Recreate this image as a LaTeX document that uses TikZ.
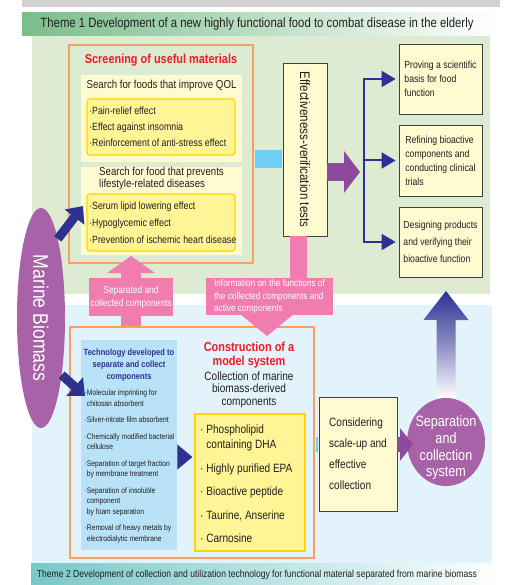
\documentclass[tikz,border=0pt]{standalone}
\usepackage{fontspec}
\setmainfont{Liberation Sans}[FakeStretch=0.84]
\usetikzlibrary{arrows.meta,shapes.geometric}

\definecolor{greenbg}{RGB}{220,235,209}
\definecolor{bluebg}{RGB}{226,243,251}
\definecolor{themegreen}{RGB}{122,190,138}
\definecolor{themeteal}{RGB}{120,200,200}
\definecolor{orangeline}{RGB}{247,160,100}
\definecolor{paleyellow}{RGB}{255,251,208}
\definecolor{fillyellow}{RGB}{255,245,150}
\definecolor{goldline}{RGB}{255,212,0}
\definecolor{cyanbar}{RGB}{109,207,246}
\definecolor{navy}{RGB}{46,49,146}
\definecolor{biopurple}{RGB}{168,98,168}
\definecolor{arrowpurple}{RGB}{140,74,156}
\definecolor{pinkarrow}{RGB}{240,124,176}
\definecolor{titlered}{RGB}{237,28,36}
\definecolor{techblue}{RGB}{183,226,247}
\definecolor{darktext}{RGB}{35,31,32}

\newcommand{\fsz}[2]{\fontsize{#1}{#2}\selectfont}

\begin{document}
\begin{tikzpicture}[x=1pt, y=-1pt,
  every node/.style={text=darktext, inner sep=0pt},
  resbox/.style={draw=black!75, fill=paleyellow, line width=0.8pt},
  orangeframe/.style={draw=orangeline, line width=2pt},
  palebox/.style={fill=paleyellow},
  itembox/.style={draw=goldline, fill=fillyellow, line width=1.2pt, rounded corners=3pt},
  pinklabel/.style={fill=pinkarrow, text=white, align=left},
  navyfat/.style={navy, line width=9pt, -{Triangle[length=14pt,width=24pt]}},
  navyline/.style={navy, line width=2pt},
  purplefat/.style={arrowpurple, -{Triangle[length=16pt,width=41pt]}}]
\useasboundingbox (0,0) rectangle (509,585);

% Theme bars and backgrounds
\fill[black!18] (22,0) rectangle (500,7);
\shade[left color=themegreen, right color=white] (22,13) rectangle (500,36);
\node (theme1) at (257,24.5) {\fsz{13.5}{15}Theme 1 Development of a new highly functional food to combat disease in the elderly};
\fill[greenbg] (32,36) rectangle (490,294);
\fill[bluebg] (32,305) rectangle (492,563);
\shade[left color=themeteal, right color=white] (31,563) rectangle (503,585);
\node (theme2) at (257,575) {\fsz{10.2}{12}Theme 2 Development of collection and utilization technology for functional material separated from marine biomass};

% Construction of a model system
\node[orangeframe, minimum width=244, minimum height=231] (model) at (192,442.5) {};
\node[fill=techblue, minimum width=96, minimum height=210] (tech) at (129,445) {};
\node[text=navy, align=center, font=\bfseries\fsz{9}{12}] (techTitle) at (129,365) {Technology developed to\\separate and collect\\components};
\node[anchor=west, align=left, font=\fsz{8}{10.5}] (techList) at (84.5,466.5) {·Molecular imprinting for\\\hphantom{·}chitosan absorbent\\[6pt]·Silver-nitrate film absorbent\\[6pt]·Chemically modified bacterial\\\hphantom{·}cellulose\\[6pt]·Separation of target fraction\\\hphantom{·}by membrane treatment\\[6pt]·Separation of insoluble\\\hphantom{·}component\\\hphantom{·}by foam separation\\[6pt]·Removal of heavy metals by\\\hphantom{·}electrodialytic membrane};
\node[text=titlered, align=center, font=\bfseries\fsz{13}{14}] (conTitle) at (249,355) {Construction of a\\model system};
\node[align=center, font=\fsz{12}{12.5}] (conSub) at (249,389.5) {Collection of marine\\biomass-derived\\components};
\node[draw=goldline, fill=fillyellow, line width=1.5pt, minimum width=110, minimum height=137] (comp) at (250,482.5) {};
\node[anchor=west, align=left, font=\fsz{12}{15}] (compList) at (200,484) {· Phospholipid\\\hphantom{· }containing DHA\\[8.5pt]· Highly purified EPA\\[8.5pt]· Bioactive peptide\\[8.5pt]· Taurine, Anserine\\[8.5pt]· Carnosine};
\draw[navy, line width=0.1pt, -{Triangle[length=15pt,width=25pt]}, shorten >=2pt] ([yshift=-12pt]tech.east) -- ([yshift=-12pt]tech.east -| comp.west);

% Screening of useful materials
\node[orangeframe, minimum width=184, minimum height=218] (screen) at (161,154) {};
\node[text=titlered, font=\bfseries\fsz{13}{15}] (screenTitle) at (161,60) {Screening of useful materials};
\node[palebox, minimum width=161, minimum height=87] (qol) at (161.5,118.5) {};
\node[font=\fsz{11.5}{14}] (qolHead) at (161.5,86) {Search for foods that improve QOL};
\node[itembox, minimum width=148, minimum height=56] (qolItems) at (161,127) {};
\node[anchor=west, align=left, font=\fsz{10.5}{16}] (qolList) at (89,127) {·Pain-relief effect\\·Effect against insomnia\\·Reinforcement of anti-stress effect};
\node[palebox, minimum width=161, minimum height=88] (ls) at (161.5,211) {};
\node[align=left, font=\fsz{11.5}{12}] (lsHead) at (161.5,179) {Search for food that prevents\\lifestyle-related diseases};
\node[itembox, minimum width=148, minimum height=57] (lsItems) at (161,222.5) {};
\node[anchor=west, align=left, font=\fsz{10.5}{17}] (lsList) at (89,223) {·Serum lipid lowering effect\\·Hypoglycemic effect\\·Prevention of ischemic heart disease};

% Effectiveness-verification tests
\node[resbox, minimum width=44, minimum height=173] (eff) at (305,149.5) {};
\node[rotate=-90, font=\fsz{13.8}{16}] (effText) at (eff.center) {Effectiveness-verification tests};
\coordinate (topLink) at (0,159);
\draw[cyanbar, line width=18pt, shorten <=1pt, shorten >=0.4pt] (screen.east |- topLink) -- (eff.west |- topLink);

% Results
\node[resbox, minimum width=83, minimum height=70, align=left, font=\fsz{10.3}{14}] (res1) at (440.5,79) {Proving a scientific\\basis for food\\function};
\node[resbox, minimum width=83, minimum height=71, align=left, font=\fsz{10.3}{14}] (res2) at (440.5,160.5) {Refining bioactive\\components and\\conducting clinical\\trials};
\node[resbox, minimum width=83, minimum height=70, align=left, font=\fsz{10.3}{17}] (res3) at (440.5,242) {Designing products\\and verifying their\\bioactive function};
\coordinate (hub) at (360,172);
\draw[purplefat, line width=18pt] (eff.east |- hub) -- (hub);
\coordinate (fork) at (364,79);
\draw[navyline, line cap=rect] (fork) -- (fork |- res3.west);
\foreach \r in {res1,res2,res3}
  \draw[navyline, -{Triangle[length=14pt,width=16pt]}, shorten >=3pt] (fork |- \r.west) -- (\r.west);

% Marine Biomass
\node[ellipse, fill=biopurple, minimum width=48, minimum height=220] (bio) at (41,318) {};
\node[rotate=-90, text=white, font=\fsz{21}{24}] (bioText) at (bio.center) {Marine Biomass};
\coordinate (bioUp) at (83,206);
\coordinate (bioDown) at (85,396);
\draw[navyfat] (bio.78) -- (bioUp);
\draw[navyfat] (bio.-70) -- (bioDown);

% Pink arrows between the themes
\coordinate (sepTip) at (131,256);
\draw[pinkarrow, line width=20pt, -{Triangle[length=17pt,width=47pt]}] (sepTip |- model.north) -- (sepTip);
\node[pinklabel, align=center, minimum width=84, minimum height=38, font=\fsz{10}{13}] (sepLabel) at (131,297) {Separated and\\collected components};
\node[pinklabel, minimum width=127, minimum height=37, font=\fsz{9.8}{12.5}] (infoLabel) at (269.5,296.5) {Information on the functions of\\the collected components and\\active components};
\draw[pinkarrow, line width=17pt] ([xshift=-6.5pt]eff.south) -- ([xshift=-6.5pt]eff.south |- infoLabel.north);
\coordinate (infoTip) at (267,336);
\draw[pinkarrow, line width=1pt, -{Triangle[length=21pt,width=51pt]}] (infoTip |- infoLabel.south) -- (infoTip);

% Separation and collection system
\node[resbox, minimum width=78, minimum height=114, align=left, font=\fsz{12}{21}] (consid) at (358,454) {Considering\\scale-up and\\effective\\collection};
\node[ellipse, fill=biopurple, minimum width=78, minimum height=88] (circ) at (446,442) {};
\node[text=white, align=center, font=\fsz{15}{16.7}] (circText) at (446,448) {Separation\\and\\collection\\system};
\coordinate (lowLink) at (0,444.5);
\coordinate (lowTip) at (413,444.5);
\draw[cyanbar, line width=15pt, shorten <=1pt, shorten >=0.4pt] (model.east |- lowLink) -- (consid.west |- lowLink);
\draw[arrowpurple, line width=15pt, -{Triangle[length=13pt,width=32pt]}] (consid.east |- lowLink) -- (lowTip);
\coordinate (upTip) at (446,291);
\shade[top color=navy, bottom color=white, middle color=navy!55] ([xshift=-9.5pt]circ.north) -- ++(0,-78) -- ++(-13,0) -- (upTip) -- ++(22.5,29) -- ++(-13,0) -- ++(0,78) -- cycle;

\end{tikzpicture}
\end{document}
